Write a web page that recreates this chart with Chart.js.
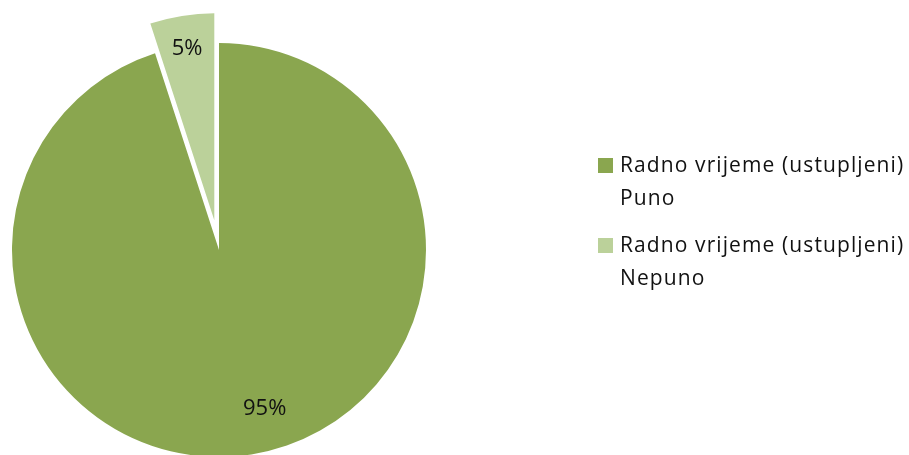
<!DOCTYPE html>
<html>
<head>
<meta charset="utf-8">
<script src="https://cdn.jsdelivr.net/npm/chart.js@4.4.0/dist/chart.umd.min.js"></script>
<style>
html, body { margin: 0; padding: 0; width: 909px; height: 455px; overflow: hidden; background: #fff; font-family: "Open Sans", sans-serif; }
#pie { position: absolute; left: 0; top: 0; }
#legend { position: absolute; left: 598px; top: 148px; color: #111; font-size: 21px; letter-spacing: 1.1px; line-height: 33px; }
.item { display: flex; align-items: flex-start; margin-bottom: 14px; }
.box { width: 15px; height: 15px; margin-top: 10px; margin-right: 7px; flex: none; }
</style>
</head>
<body>
<canvas id="pie" width="909" height="480"></canvas>
<div id="legend"></div>
<script>
var categories = [['Radno vrijeme (ustupljeni)', 'Puno'], ['Radno vrijeme (ustupljeni)', 'Nepuno']];
var values = [95, 5];
var colors = ['#8aa64f', '#bbd19a'];
var explode = [0, 30];

// where each percent label sits: fraction of radius, angle shift in degrees
var labelSpots = [{ frac: 0.8, shift: -7 }, { frac: 0.84, shift: 0 }];

var total = values.reduce(function (a, b) { return a + b; }, 0);

// pull slices out of the pie without the radius change chart.js applies for "offset"
var explodeSlices = {
    id: 'explodeSlices',
    beforeDatasetDraw: function (chart, args) {
        args.meta.data.forEach(function (arc, i) {
            if (arc._exploded) return;
            var orig = arc.draw;
            arc.draw = function (ctx, area) {
                var p = this.getProps(['startAngle', 'endAngle'], true);
                var mid = (p.startAngle + p.endAngle) / 2;
                ctx.save();
                ctx.translate(Math.cos(mid) * explode[i], Math.sin(mid) * explode[i]);
                orig.call(this, ctx, area);
                ctx.restore();
            };
            arc._exploded = true;
        });
    }
};

var pctLabels = {
    id: 'pctLabels',
    afterDatasetsDraw: function (chart) {
        var ctx = chart.ctx;
        var meta = chart.getDatasetMeta(0);
        ctx.save();
        ctx.font = '22px "Open Sans"';
        ctx.fillStyle = '#111';
        ctx.textAlign = 'center';
        ctx.textBaseline = 'middle';
        meta.data.forEach(function (arc, i) {
            var p = arc.getProps(['x', 'y', 'startAngle', 'endAngle', 'outerRadius'], true);
            var mid = (p.startAngle + p.endAngle) / 2;
            var cx = p.x + Math.cos(mid) * explode[i];
            var cy = p.y + Math.sin(mid) * explode[i];
            var a = mid + labelSpots[i].shift * Math.PI / 180;
            var r = p.outerRadius * labelSpots[i].frac;
            var text = Math.round(values[i] / total * 100) + '%';
            ctx.fillText(text, cx + Math.cos(a) * r, cy + Math.sin(a) * r);
        });
        ctx.restore();
    }
};

new Chart(document.getElementById('pie').getContext('2d'), {
    type: 'pie',
    data: {
        labels: categories.map(function (l) { return l.join(' '); }),
        datasets: [{
            data: values,
            backgroundColor: colors,
            borderWidth: 0
        }]
    },
    options: {
        responsive: false,
        animation: false,
        layout: { padding: { left: 12, top: 43, right: 483, bottom: 23 } },
        plugins: {
            legend: { display: false },
            tooltip: { enabled: false }
        }
    },
    plugins: [explodeSlices, pctLabels]
});

// legend built from the same arrays
var legend = document.getElementById('legend');
categories.forEach(function (lines, i) {
    var item = document.createElement('div');
    item.className = 'item';
    var box = document.createElement('div');
    box.className = 'box';
    box.style.background = colors[i];
    var txt = document.createElement('div');
    txt.innerHTML = lines.join('<br>');
    item.appendChild(box);
    item.appendChild(txt);
    legend.appendChild(item);
});
</script>
</body>
</html>
